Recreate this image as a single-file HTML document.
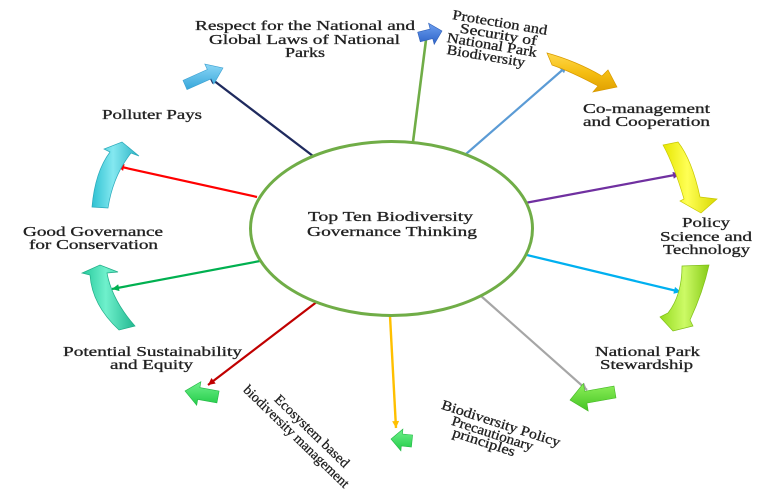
<!DOCTYPE html>
<html>
<head>
<meta charset="utf-8">
<style>
html,body{margin:0;padding:0;background:#ffffff;}
svg{display:block;}
text{font-family:"Liberation Serif","DejaVu Serif",serif;fill:#222222;font-size:14px;stroke:#222222;stroke-width:0.3;}
</style>
</head>
<body>
<svg width="776" height="501" viewBox="0 0 776 501" xmlns="http://www.w3.org/2000/svg">
<defs>
  <marker id="mNavy" viewBox="0 0 10 10" refX="10" refY="5" markerWidth="8" markerHeight="7" markerUnits="userSpaceOnUse" orient="auto"><path d="M0,0L10,5L0,10z" fill="#1f2a5e"/></marker>
  <marker id="mGreenT" viewBox="0 0 10 10" refX="10" refY="5" markerWidth="8" markerHeight="7" markerUnits="userSpaceOnUse" orient="auto"><path d="M0,0L10,5L0,10z" fill="#70ad47"/></marker>
  <marker id="mSteel" viewBox="0 0 10 10" refX="10" refY="5" markerWidth="8" markerHeight="7" markerUnits="userSpaceOnUse" orient="auto"><path d="M0,0L10,5L0,10z" fill="#5b9bd5"/></marker>
  <marker id="mPurple" viewBox="0 0 10 10" refX="10" refY="5" markerWidth="8" markerHeight="7" markerUnits="userSpaceOnUse" orient="auto"><path d="M0,0L10,5L0,10z" fill="#7030a0"/></marker>
  <marker id="mCyan" viewBox="0 0 10 10" refX="10" refY="5" markerWidth="8" markerHeight="7" markerUnits="userSpaceOnUse" orient="auto"><path d="M0,0L10,5L0,10z" fill="#00b0f0"/></marker>
  <marker id="mGray" viewBox="0 0 10 10" refX="10" refY="5" markerWidth="8" markerHeight="7" markerUnits="userSpaceOnUse" orient="auto"><path d="M0,0L10,5L0,10z" fill="#a6a6a6"/></marker>
  <marker id="mGold" viewBox="0 0 10 10" refX="10" refY="5" markerWidth="8" markerHeight="7" markerUnits="userSpaceOnUse" orient="auto"><path d="M0,0L10,5L0,10z" fill="#ffc000"/></marker>
  <marker id="mDRed" viewBox="0 0 10 10" refX="10" refY="5" markerWidth="8" markerHeight="7" markerUnits="userSpaceOnUse" orient="auto"><path d="M0,0L10,5L0,10z" fill="#c00000"/></marker>
  <marker id="mGreen" viewBox="0 0 10 10" refX="10" refY="5" markerWidth="8" markerHeight="7" markerUnits="userSpaceOnUse" orient="auto"><path d="M0,0L10,5L0,10z" fill="#00b050"/></marker>
  <marker id="mRed" viewBox="0 0 10 10" refX="10" refY="5" markerWidth="8" markerHeight="7" markerUnits="userSpaceOnUse" orient="auto"><path d="M0,0L10,5L0,10z" fill="#ff0000"/></marker>

  <linearGradient id="gA" x1="0" y1="0" x2="1" y2="0"><stop offset="0" stop-color="#2fc2d2"/><stop offset="0.45" stop-color="#84e8f0"/><stop offset="1" stop-color="#2bb3c4"/></linearGradient>
  <linearGradient id="gB" x1="0" y1="0" x2="1" y2="0"><stop offset="0" stop-color="#26c99c"/><stop offset="0.45" stop-color="#6ff0cc"/><stop offset="1" stop-color="#22b890"/></linearGradient>
  <linearGradient id="gC" x1="0" y1="0" x2="0" y2="1"><stop offset="0" stop-color="#ffd84a"/><stop offset="0.5" stop-color="#f5be12"/><stop offset="1" stop-color="#e0a000"/></linearGradient>
  <linearGradient id="gD" x1="0" y1="0" x2="1" y2="0"><stop offset="0" stop-color="#e6e600"/><stop offset="0.45" stop-color="#ffff55"/><stop offset="1" stop-color="#d8d800"/></linearGradient>
  <linearGradient id="gE" x1="0" y1="0" x2="1" y2="0"><stop offset="0" stop-color="#96dc20"/><stop offset="0.5" stop-color="#ccfa66"/><stop offset="1" stop-color="#88cc18"/></linearGradient>
  <linearGradient id="gF" x1="0" y1="0" x2="0" y2="1"><stop offset="0" stop-color="#8ad6f6"/><stop offset="1" stop-color="#36a6da"/></linearGradient>
  <linearGradient id="gG" x1="0" y1="0" x2="0" y2="1"><stop offset="0" stop-color="#6c9ff0"/><stop offset="1" stop-color="#2e63c8"/></linearGradient>
  <linearGradient id="gH" x1="0" y1="0" x2="0" y2="1"><stop offset="0" stop-color="#8ef05a"/><stop offset="1" stop-color="#44c424"/></linearGradient>
  <linearGradient id="gI" x1="0" y1="0" x2="0" y2="1"><stop offset="0" stop-color="#6ff08a"/><stop offset="1" stop-color="#22cc48"/></linearGradient>
</defs>

<!-- connectors -->
<line x1="313" y1="156" x2="209" y2="77" stroke="#1f2a5e" stroke-width="2.3" marker-end="url(#mNavy)"/>
<line x1="413" y1="142" x2="427" y2="32" stroke="#70ad47" stroke-width="2.6" marker-end="url(#mGreenT)"/>
<line x1="466" y1="154" x2="567" y2="66" stroke="#5b9bd5" stroke-width="2.2" marker-end="url(#mSteel)"/>
<line x1="525" y1="203" x2="680" y2="174" stroke="#7030a0" stroke-width="2.2" marker-end="url(#mPurple)"/>
<line x1="527" y1="255" x2="681" y2="292" stroke="#00b0f0" stroke-width="2.2" marker-end="url(#mCyan)"/>
<line x1="481" y1="296" x2="587" y2="390" stroke="#a6a6a6" stroke-width="2.2" marker-end="url(#mGray)"/>
<line x1="390" y1="316" x2="396" y2="428" stroke="#ffc000" stroke-width="2.4" marker-end="url(#mGold)"/>
<line x1="318" y1="301" x2="208" y2="385" stroke="#c00000" stroke-width="2.2" marker-end="url(#mDRed)"/>
<line x1="260" y1="261" x2="112" y2="289" stroke="#00b050" stroke-width="2.2" marker-end="url(#mGreen)"/>
<line x1="257" y1="197" x2="117" y2="166" stroke="#ff0000" stroke-width="2.2" marker-end="url(#mRed)"/>

<!-- central ellipse -->
<ellipse cx="391.5" cy="228.5" rx="141" ry="87" fill="#ffffff" stroke="#70ad47" stroke-width="3"/>
<text x="308" y="221" font-size="15" textLength="165" lengthAdjust="spacingAndGlyphs">Top Ten Biodiversity</text>
<text x="307" y="236" font-size="15" textLength="170" lengthAdjust="spacingAndGlyphs">Governance Thinking</text>

<!-- block arrows -->
<polygon points="183.0,80.4 207.3,69.5 204.8,64.1 223,68 213.8,84.1 211.3,78.7 187.0,89.6" fill="url(#gF)" stroke="#3a9fd0" stroke-width="0.6"/>
<polygon points="417.7,32.2 430.1,29.0 428.6,23.2 442,31 434.2,44.4 432.7,38.6 420.3,41.8" fill="url(#gG)" stroke="#2e5fb8" stroke-width="0.6"/>
<polygon points="614.0,386.1 584.7,391.3 583.4,383.4 570,400 588.2,411.0 586.9,403.1 616.0,397.9" fill="url(#gH)" stroke="#44b824" stroke-width="0.6"/>
<polygon points="219.1,391.1 199.9,387.6 200.9,381.7 185,391 196.7,405.3 197.7,399.4 216.9,402.9" fill="url(#gI)" stroke="#22b844" stroke-width="0.6"/>
<polygon points="412.6,435.0 402.5,434.0 402.9,429.1 391,439 400.9,450.9 401.3,446.0 411.4,447.0" fill="url(#gI)" stroke="#22b844" stroke-width="0.6"/>

<!-- curved arrows -->
<path d="M92,207 Q95,172 110,152 L104,149 L122,142 L139,156 L131,153 Q113,176 108,208 Z" fill="url(#gA)" stroke="#2aa9ba" stroke-width="0.7"/>
<path d="M90,275 Q92,305 119,330 L135,326 Q112,300 107,273 L118,272 L100,265 L82,273 Z" fill="url(#gB)" stroke="#20ae88" stroke-width="0.7"/>
<path d="M547,53 Q576,61 602,76 L608,70 L617,87 L593,92 L598,86 Q572,72 552,65 Z" fill="url(#gC)" stroke="#d89a00" stroke-width="0.7"/>
<path d="M663,145 Q674,165 684,199 L680,201 L701,213 L717,199 L700,197 Q692,160 678,142 Z" fill="url(#gD)" stroke="#c8c800" stroke-width="0.7"/>
<path d="M682,266 Q682,295 668,313 L660,317 L673,331 L693,326 L690,320 Q703,292 709,265 Z" fill="url(#gE)" stroke="#80c018" stroke-width="0.7"/>

<!-- labels -->
<text x="195" y="30" textLength="220" lengthAdjust="spacingAndGlyphs">Respect for the National and</text>
<text x="209" y="44" textLength="191" lengthAdjust="spacingAndGlyphs">Global Laws of National</text>
<text x="285" y="57" textLength="40" lengthAdjust="spacingAndGlyphs">Parks</text>

<text x="102" y="119" textLength="100" lengthAdjust="spacingAndGlyphs">Polluter Pays</text>

<text x="23" y="236" textLength="140" lengthAdjust="spacingAndGlyphs">Good Governance</text>
<text x="29" y="249" textLength="129" lengthAdjust="spacingAndGlyphs">for Conservation</text>

<text x="63" y="356" textLength="179" lengthAdjust="spacingAndGlyphs">Potential Sustainability</text>
<text x="110" y="369" textLength="83" lengthAdjust="spacingAndGlyphs">and Equity</text>

<text x="583" y="113" textLength="127" lengthAdjust="spacingAndGlyphs">Co-management</text>
<text x="583" y="126" textLength="127" lengthAdjust="spacingAndGlyphs">and Cooperation</text>

<text x="682" y="227" textLength="48" lengthAdjust="spacingAndGlyphs">Policy</text>
<text x="660" y="241" textLength="92" lengthAdjust="spacingAndGlyphs">Science and</text>
<text x="663" y="254" textLength="87" lengthAdjust="spacingAndGlyphs">Technology</text>

<text x="595" y="356" textLength="105" lengthAdjust="spacingAndGlyphs">National Park</text>
<text x="600" y="369" textLength="93" lengthAdjust="spacingAndGlyphs">Stewardship</text>

<!-- rotated: Protection block -->
<text font-size="13" text-anchor="middle" y="4.5" transform="translate(500,22.5) rotate(9.5)" textLength="96" lengthAdjust="spacingAndGlyphs">Protection and</text>
<text font-size="13" text-anchor="middle" y="4.5" transform="translate(498.5,34.5) rotate(9.5)" textLength="78" lengthAdjust="spacingAndGlyphs">Security  of</text>
<text font-size="13" text-anchor="middle" y="4.5" transform="translate(492,45) rotate(9.5)" textLength="91" lengthAdjust="spacingAndGlyphs">National Park</text>
<text font-size="13" text-anchor="middle" y="4.5" transform="translate(486,56) rotate(9.5)" textLength="79" lengthAdjust="spacingAndGlyphs">Biodiversity</text>

<!-- rotated: Ecosystem block -->
<text font-size="13" text-anchor="middle" y="4.5" transform="translate(312,431) rotate(44)" textLength="98" lengthAdjust="spacingAndGlyphs">Ecosystem based</text>
<text font-size="13" text-anchor="middle" y="4.5" transform="translate(296.5,436.5) rotate(44)" textLength="141" lengthAdjust="spacingAndGlyphs">biodiversity management</text>

<!-- rotated: Biodiversity Policy block -->
<text font-size="13" text-anchor="middle" y="4.5" transform="translate(501,423.5) rotate(18)" textLength="124" lengthAdjust="spacingAndGlyphs">Biodiversity Policy</text>
<text font-size="13" text-anchor="middle" y="4.5" transform="translate(492.5,433.5) rotate(18)" textLength="85" lengthAdjust="spacingAndGlyphs">Precautionary</text>
<text font-size="13" text-anchor="middle" y="4.5" transform="translate(484,442) rotate(18)" textLength="65" lengthAdjust="spacingAndGlyphs">principles</text>
</svg>
</body>
</html>
